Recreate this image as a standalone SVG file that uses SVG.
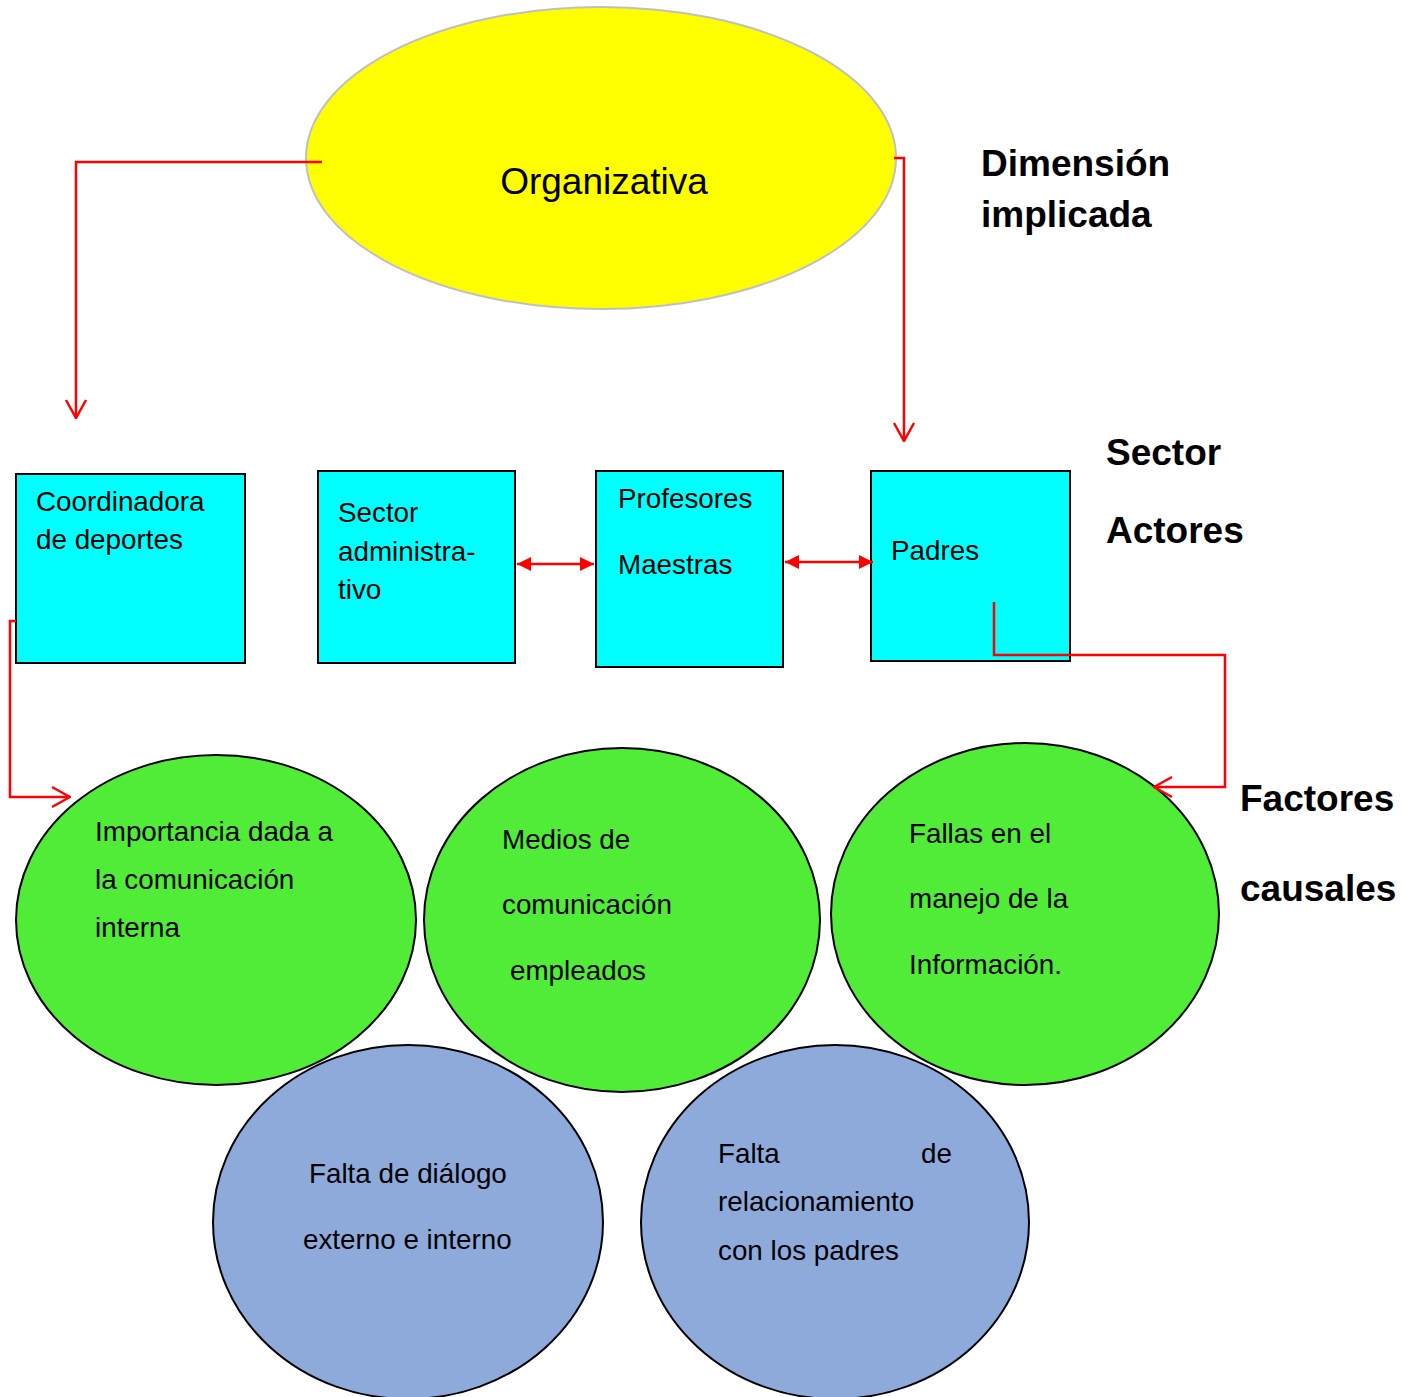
<svg xmlns="http://www.w3.org/2000/svg" width="1403" height="1397" viewBox="0 0 1403 1397">
<defs>
<style>
text{font-family:"Liberation Sans",Arial,sans-serif;fill:#000}
.t{font-size:27.8px}
.h{font-size:37px;font-weight:bold}
.box{fill:#00ffff;stroke:#000;stroke-width:2}
.g{fill:#50ec37;stroke:#000;stroke-width:2}
.b{fill:#8eaadb;stroke:#000;stroke-width:2}
.c{fill:none;stroke:#ff0000;stroke-width:2.5}
</style>
<marker id="open" viewBox="0 0 20 24" refX="19" refY="12" markerWidth="20" markerHeight="24" markerUnits="userSpaceOnUse" orient="auto">
<path d="M1,2 L19,12 L1,22" fill="none" stroke="#ff0000" stroke-width="2.5"/>
</marker>
<marker id="tri" viewBox="0 0 14 14" refX="14" refY="7" markerWidth="14" markerHeight="14" markerUnits="userSpaceOnUse" orient="auto-start-reverse">
<path d="M0,0 L14,7 L0,14 z" fill="#ff0000"/>
</marker>
</defs>
<rect width="1403" height="1397" fill="#fff"/>

<g id="organizativa">
<ellipse cx="601" cy="158" rx="295" ry="151" fill="#ffff00" stroke="#c0c0c0" stroke-width="2"/>
<text x="604" y="194" text-anchor="middle" style="font-size:37px">Organizativa</text>
</g>

<g id="labels">
<text class="h" x="981" y="176">Dimensión</text>
<text class="h" x="981" y="227">implicada</text>
<text class="h" x="1106" y="465">Sector</text>
<text class="h" x="1106" y="543">Actores</text>
<text class="h" x="1240" y="811">Factores</text>
<text class="h" x="1240" y="901">causales</text>
</g>

<g id="coordinadora">
<rect class="box" x="16" y="474" width="229" height="189"/>
<text class="t" x="36" y="511">Coordinadora</text>
<text class="t" x="36" y="549">de deportes</text>
</g>
<g id="sector-admin">
<rect class="box" x="318" y="471" width="197" height="192"/>
<text class="t" x="338" y="522">Sector</text>
<text class="t" x="338" y="561">administra-</text>
<text class="t" x="338" y="599">tivo</text>
</g>
<g id="profesores">
<rect class="box" x="596" y="471" width="187" height="196"/>
<text class="t" x="618" y="508">Profesores</text>
<text class="t" x="618" y="574">Maestras</text>
</g>
<g id="padres">
<rect class="box" x="871" y="471" width="199" height="190"/>
<text class="t" x="891" y="560">Padres</text>
</g>

<g id="importancia">
<ellipse class="g" cx="216" cy="920" rx="200" ry="165"/>
<text class="t" x="95" y="841">Importancia dada a</text>
<text class="t" x="95" y="889">la comunicación</text>
<text class="t" x="95" y="937">interna</text>
</g>
<g id="medios">
<ellipse class="g" cx="622" cy="920" rx="198" ry="172"/>
<text class="t" x="502" y="849">Medios de</text>
<text class="t" x="502" y="914">comunicación</text>
<text class="t" x="510" y="980">empleados</text>
</g>
<g id="fallas">
<ellipse class="g" cx="1025" cy="914" rx="194" ry="171"/>
<text class="t" x="909" y="843">Fallas en el</text>
<text class="t" x="909" y="908">manejo de la</text>
<text class="t" x="909" y="974">Información.</text>
</g>
<g id="falta-dialogo">
<ellipse class="b" cx="408" cy="1222" rx="195" ry="177"/>
<text class="t" x="309" y="1183">Falta de diálogo</text>
<text class="t" x="303" y="1249">externo e interno</text>
</g>
<g id="falta-relacion">
<ellipse class="b" cx="835" cy="1222" rx="194" ry="177"/>
<text class="t" x="718" y="1163">Falta</text>
<text class="t" x="921" y="1163">de</text>
<text class="t" x="718" y="1211">relacionamiento</text>
<text class="t" x="718" y="1260">con los padres</text>
</g>

<g id="connectors">
<path class="c" d="M322,162 H76 V418" marker-end="url(#open)"/>
<path class="c" d="M894,158 H904 V441" marker-end="url(#open)"/>
<path class="c" d="M517,564 H594" marker-start="url(#tri)" marker-end="url(#tri)"/>
<path class="c" d="M785,562 H873" marker-start="url(#tri)" marker-end="url(#tri)"/>
<path class="c" d="M16,621 H10 V797 H70" marker-end="url(#open)"/>
<path class="c" d="M994,602 V655 H1225 V787 H1154" marker-end="url(#open)"/>
</g>
</svg>
